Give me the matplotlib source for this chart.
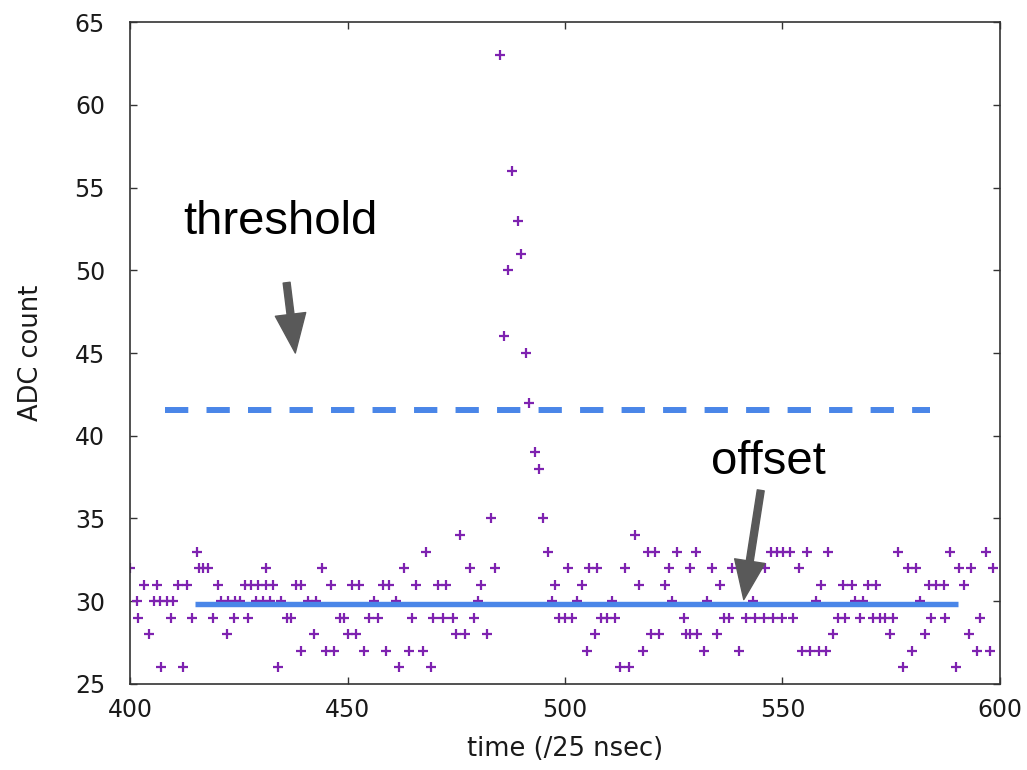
import matplotlib
matplotlib.use("Agg")
import matplotlib.pyplot as plt

# === Data (time in 25 ns units, ADC counts) ===
time = [
    400.0, 415.3, 415.8, 416.8, 418.0, 431.3,
    403.3, 406.1, 411.1, 413.0, 420.3, 426.4, 427.9, 429.4, 431.3, 432.9,
    401.5, 405.4, 406.9, 408.4, 409.9, 421.0, 422.6, 424.1, 425.2, 429.0, 430.6, 432.1,
    401.9, 409.4, 414.3, 419.1, 423.9, 427.1,
    404.4, 422.2,
    407.1, 412.2, 434.0,
    444.1, 463.1,
    438.2, 439.4, 446.1, 451.0, 452.7, 458.1, 459.6, 465.8,
    434.8, 440.9, 442.8, 456.2, 461.2,
    436.2, 437.1, 448.2, 449.2, 455.0, 457.0, 464.8,
    442.3, 450.1, 452.0,
    439.2, 445.1, 447.0, 453.9, 458.9, 464.1,
    461.9,
    483.1, 494.9,
    475.9,
    468.0, 496.0,
    478.2, 483.9,
    470.7, 472.6, 480.8, 497.7,
    480.0, 496.9,
    469.6, 471.9, 474.2, 479.0,
    474.9, 477.0, 482.0,
    467.3,
    469.2,
    485.0, 486.0, 486.9, 487.9, 489.2, 489.8, 491.1, 491.7, 493.0, 494.0,
    516.0,
    519.0, 520.8, 525.8, 530.2,
    500.7, 505.5, 507.4, 513.7, 523.9, 528.7,
    504.0, 517.0, 522.9,
    502.8, 510.9, 524.6,
    498.6, 500.1, 501.7, 508.2, 509.7, 511.4, 527.3,
    506.8, 519.8, 521.6, 527.9,
    505.0, 518.0,
    512.6, 514.7,
    547.3, 548.7, 550.2, 551.8, 555.7, 560.5,
    533.8, 538.4, 540.7, 546.0, 553.9,
    535.7, 558.9,
    532.6, 543.3, 557.7,
    536.5, 537.6, 541.6, 543.7, 545.8, 547.9, 550.0, 552.3,
    528.8, 530.3, 535.0, 561.5,
    531.9, 539.9, 554.4, 556.3, 558.3, 560.1,
    576.6, 588.5, 596.7,
    578.9, 580.8, 590.6, 593.4, 598.5,
    564.0, 565.9, 569.7, 571.6, 583.7, 585.4, 587.1, 591.7,
    566.7, 568.6, 581.7,
    562.8, 564.4, 567.8, 570.9, 572.4, 573.5, 575.5, 584.2, 587.3, 595.3,
    574.7, 582.7, 592.9,
    579.7, 594.6, 597.6,
    577.6, 589.8,
]
adc = [
    32, 33, 32, 32, 32, 32,
    31, 31, 31, 31, 31, 31, 31, 31, 31, 31,
    30, 30, 30, 30, 30, 30, 30, 30, 30, 30, 30, 30,
    29, 29, 29, 29, 29, 29,
    28, 28,
    26, 26, 26,
    32, 32,
    31, 31, 31, 31, 31, 31, 31, 31,
    30, 30, 30, 30, 30,
    29, 29, 29, 29, 29, 29, 29,
    28, 28, 28,
    27, 27, 27, 27, 27, 27,
    26,
    35, 35,
    34,
    33, 33,
    32, 32,
    31, 31, 31, 31,
    30, 30,
    29, 29, 29, 29,
    28, 28, 28,
    27,
    26,
    63, 46, 50, 56, 53, 51, 45, 42, 39, 38,
    34,
    33, 33, 33, 33,
    32, 32, 32, 32, 32, 32,
    31, 31, 31,
    30, 30, 30,
    29, 29, 29, 29, 29, 29, 29,
    28, 28, 28, 28,
    27, 27,
    26, 26,
    33, 33, 33, 33, 33, 33,
    32, 32, 32, 32, 32,
    31, 31,
    30, 30, 30,
    29, 29, 29, 29, 29, 29, 29, 29,
    28, 28, 28, 28,
    27, 27, 27, 27, 27, 27,
    33, 33, 33,
    32, 32, 32, 32, 32,
    31, 31, 31, 31, 31, 31, 31, 31,
    30, 30, 30,
    29, 29, 29, 29, 29, 29, 29, 29, 29, 29,
    28, 28, 28,
    27, 27, 27,
    26, 26,
]

threshold_level = 41.55
threshold_span = [408.0, 584.0]
offset_level = 29.85
offset_span = [415.0, 590.4]

x_ticks = [400, 450, 500, 550, 600]
y_ticks = [25, 30, 35, 40, 45, 50, 55, 60, 65]

purple = "#7e22b0"
blue = "#4a86e8"
arrow_grey = "#595959"

fig = plt.figure(figsize=(10.27, 7.70), dpi=100)
ax = fig.add_axes([0.1266, 0.1117, 0.8471, 0.8597])

ax.plot(time, adc, linestyle="none", marker="+", markersize=6.5,
        markeredgewidth=1.6, color=purple, zorder=2)

ax.plot(threshold_span, [threshold_level] * 2, color=blue, linewidth=4.3,
        dashes=(3.9, 3.05), solid_capstyle="butt", dash_capstyle="butt", zorder=3)
ax.plot(offset_span, [offset_level] * 2, color=blue, linewidth=3.9,
        solid_capstyle="butt", zorder=3)

# annotations
ax.text(412.2, 52.9, "threshold", family="Liberation Sans", fontsize=34,
        va="center", ha="left", color="black")
ax.text(533.5, 38.4, "offset", family="Liberation Sans", fontsize=34,
        va="center", ha="left", color="black")

arrow_style = "simple,head_length=2.8,head_width=2.2,tail_width=0.5"
ax.annotate("", xy=(438.0, 45.0), xytext=(436.0, 49.25),
            arrowprops=dict(arrowstyle=arrow_style, mutation_scale=10,
                            color=arrow_grey, shrinkA=0, shrinkB=0), zorder=4)
ax.annotate("", xy=(541.1, 30.1), xytext=(545.0, 36.7),
            arrowprops=dict(arrowstyle=arrow_style, mutation_scale=10,
                            color=arrow_grey, shrinkA=0, shrinkB=0), zorder=4)

ax.set_xlim(400, 600)
ax.set_ylim(25, 65)
ax.set_xticks(x_ticks)
ax.set_yticks(y_ticks)
ax.tick_params(direction="in", length=5, width=1, top=True, right=True,
               labelsize=17, colors="#333333", labelcolor="#1a1a1a")
ax.tick_params(axis="y", pad=18)
ax.tick_params(axis="x", pad=10)
for s in ax.spines.values():
    s.set_color("#333333")
    s.set_linewidth(1.2)

ax.set_xlabel("time (/25 nsec)", fontsize=18.5, color="#1a1a1a", labelpad=10)
ax.set_ylabel("ADC count", fontsize=18.5, color="#1a1a1a", labelpad=22)

fig.savefig("out.png", dpi=100)
